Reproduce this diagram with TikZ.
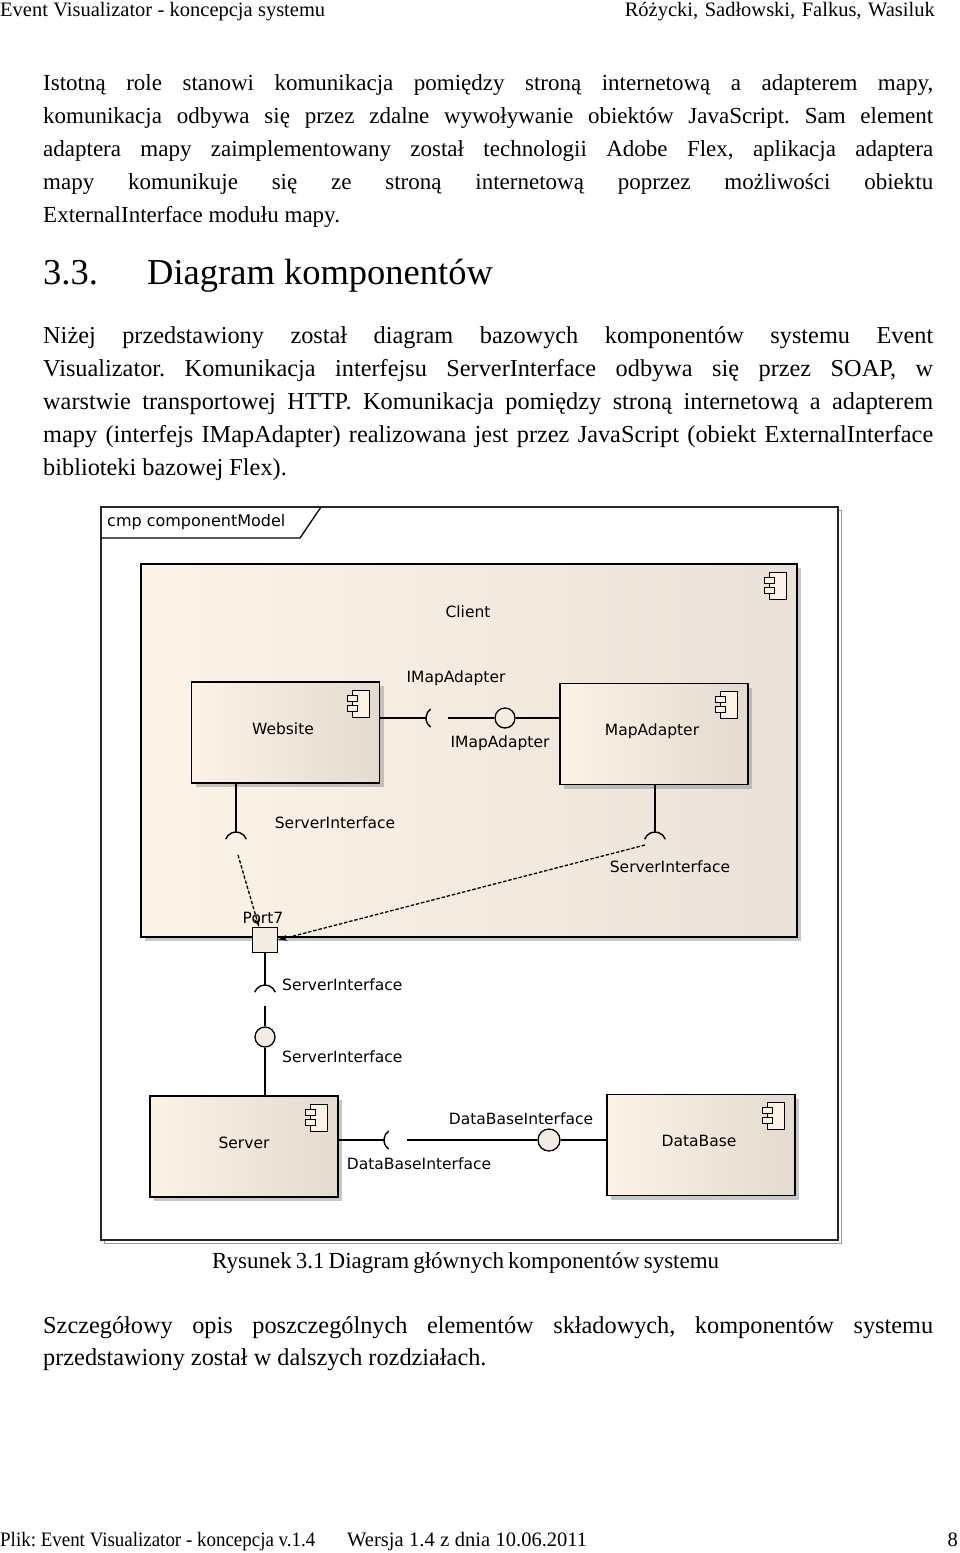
\documentclass[tikz,border=0pt]{standalone}
\usepackage{fontspec}
\setmainfont{Liberation Serif}
\newfontfamily\umlfont{DejaVu Sans}
\usetikzlibrary{arrows.meta,positioning,calc,shadows}

\definecolor{cmpleft}{HTML}{FCF2E6}
\definecolor{cmpright}{HTML}{E4DBD0}
\definecolor{clientleft}{HTML}{FDF4E8}
\definecolor{clientright}{HTML}{EAE2D8}
\definecolor{ballfill}{HTML}{F3ECE2}

\tikzset{
  body/.style={anchor=base west, inner sep=0pt, font=\fontsize{23}{27}\selectfont},
  widebody/.style={body, font=\fontsize{24.3}{28}\selectfont},
  headline/.style={anchor=base west, inner sep=0pt, font=\fontsize{20.5}{24}\selectfont},
  heading/.style={anchor=base west, inner sep=0pt, font=\fontsize{36.5}{40}\selectfont},
  uml/.style={inner sep=0pt, font=\umlfont\fontsize{15.5}{18}\selectfont},
  cmpbox/.style={draw, line width=1.4pt, left color=cmpleft, right color=cmpright,
    minimum width=188pt, minimum height=101pt, inner sep=0pt,
    drop shadow={shadow xshift=4pt, shadow yshift=-4pt, fill=black!40, opacity=.55}},
  wire/.style={line width=1.4pt},
  dep/.style={line width=1.3pt, dash pattern=on 3.5pt off 1.8pt, -{Stealth[length=9pt,width=6pt]}},
  ball/.style={circle, draw, line width=1.3pt, fill=ballfill, minimum size=20pt, inner sep=0pt},
  cmpicon/.pic={
    \draw[line width=1pt, fill=cmpleft] (5,0) rectangle (22,27);
    \draw[line width=1pt, fill=cmpleft] (0,5) rectangle (10,11);
    \draw[line width=1pt, fill=cmpleft] (0,15) rectangle (10,21);
  }
}

\begin{document}
\frenchspacing
\begin{tikzpicture}[x=1pt, y=-1pt]
  \fill[white] (0,0) rectangle (960,1553);
  \useasboundingbox (0,0) rectangle (960,1553);

  % Header
  \node[headline] (hleft) at (0,16) {\makebox[325pt][s]{Event Visualizator - koncepcja systemu}};
  \node[headline, anchor=base east] (hright) at (935,16) {\makebox[310pt][s]{Różycki, Sadłowski, Falkus, Wasiluk}};

  % First paragraph
  \node[body] (p1a) at (43,90) {\makebox[890pt][s]{Istotną role stanowi komunikacja pomiędzy stroną internetową a adapterem mapy,}};
  \node[body] (p1b) at (43,123) {\makebox[890pt][s]{komunikacja odbywa się przez zdalne wywoływanie obiektów JavaScript. Sam element}};
  \node[body] (p1c) at (43,156) {\makebox[890pt][s]{adaptera mapy zaimplementowany został technologii Adobe Flex, aplikacja adaptera}};
  \node[body] (p1d) at (43,189) {\makebox[890pt][s]{mapy komunikuje się ze stroną internetową poprzez możliwości obiektu}};
  \node[body] (p1e) at (43,222) {ExternalInterface modułu mapy.};

  % Section heading
  \node[heading] (secnum) at (43,284) {3.3.};
  \node[heading] (sectitle) at (147,284) {Diagram komponentów};

  % Second paragraph
  \node[widebody] (p2a) at (43,343) {\makebox[890pt][s]{Niżej przedstawiony został diagram bazowych komponentów systemu Event}};
  \node[widebody] (p2b) at (43,376) {\makebox[890pt][s]{Visualizator. Komunikacja interfejsu ServerInterface odbywa się przez SOAP, w}};
  \node[widebody] (p2c) at (43,409) {\makebox[890pt][s]{warstwie transportowej HTTP. Komunikacja pomiędzy stroną internetową a adapterem}};
  \node[widebody] (p2d) at (43,442) {\makebox[890pt][s]{mapy (interfejs IMapAdapter) realizowana jest przez JavaScript (obiekt ExternalInterface}};
  \node[widebody] (p2e) at (43,475) {biblioteki bazowej Flex).};

  % Diagram frame
  \draw[black!40, line width=1pt] (104,510) rectangle (841,1243);
  \draw[fill=white, draw=black!85, line width=1.6pt] (101,507) rectangle (838,1240);
  \draw[line width=1.3pt] (101,538) -- (300,538) -- (321,507);
  \node[uml, anchor=west, font=\umlfont\fontsize{16}{18}\selectfont] (frametitle) at (107,522) {cmp componentModel};

  % Client
  \node[cmpbox, left color=clientleft, right color=clientright,
    minimum width=656pt, minimum height=373pt] (client) at (469,750.5) {};
  \pic at ($(client.north east)+(-33,9)$) {cmpicon};
  \node[uml] (clientlbl) at (468,612) {Client};

  % Inner components
  \node[cmpbox] (website) at (285.5,732.5) {};
  \node[cmpbox] (mapadapter) at (654,734) {};
  \pic at ($(website.north east)+(-33,9)$) {cmpicon};
  \pic at ($(mapadapter.north east)+(-33,9)$) {cmpicon};
  \node[uml] (websitelbl) at (283,729) {Website};
  \node[uml] (mapadapterlbl) at (652,731) {MapAdapter};

  % IMapAdapter
  \coordinate (imapsock) at (426,718);
  \coordinate (imapgap) at (448,718);
  \node[ball] (imapball) at (505,718) {};
  \draw[wire] (website.east |- imapsock) -- (imapsock);
  \draw[wire] ([shift={(11,0)}]imapsock) ++(125:11) arc[start angle=125, end angle=235, radius=11];
  \draw[wire] (imapgap) -- (imapball.west);
  \draw[wire] (imapball.east) -- (mapadapter.west |- imapball);
  \node[uml] (imaptop) at (456,678) {IMapAdapter};
  \node[uml] (imapbot) at (500,743) {IMapAdapter};

  % ServerInterface inside Client
  \coordinate (wssock) at (236,832);
  \coordinate (masock) at (655,832);
  \draw[wire] (website.south -| wssock) -- (wssock);
  \draw[wire] (mapadapter.south -| masock) -- (masock);
  \draw[wire] ([shift={(0,11)}]wssock) ++(200:11) arc[start angle=200, end angle=340, radius=11];
  \draw[wire] ([shift={(0,11)}]masock) ++(200:11) arc[start angle=200, end angle=340, radius=11];
  \node[uml] (wssi) at (335,823) {ServerInterface};
  \node[uml] (masi) at (670,867) {ServerInterface};

  % Port7
  \node[draw, line width=1.2pt, fill=ballfill, minimum size=25pt, inner sep=0pt] (port7) at (265,940) {};
  \node[uml] (port7lbl) at (263,918) {Port7};
  \coordinate (wsdep) at (238,855);
  \coordinate (madep) at (645,845);
  \draw[dep] (wsdep) -- ([xshift=-6pt]port7.north);
  \draw[dep] (madep) -- (port7.east);

  % ServerInterface to Server
  \coordinate (portsock) at (265,985);
  \coordinate (portgap) at (265,1006);
  \node[ball] (portball) at (265,1037) {};
  \draw[wire] (port7.south) -- (portsock);
  \draw[wire] ([shift={(0,11)}]portsock) ++(200:11) arc[start angle=200, end angle=340, radius=11];
  \draw[wire] (portgap) -- (portball.north);
  \node[uml, anchor=west] (portsocklbl) at (282,985) {ServerInterface};
  \node[uml, anchor=west] (portballlbl) at (282,1057) {ServerInterface};

  % Server and DataBase
  \node[cmpbox] (server) at (244,1146.5) {};
  \node[cmpbox] (database) at (701,1145) {};
  \pic at ($(server.north east)+(-33,9)$) {cmpicon};
  \pic at ($(database.north east)+(-33,9)$) {cmpicon};
  \node[uml] (serverlbl) at (244,1143) {Server};
  \node[uml] (databaselbl) at (699,1141) {DataBase};
  \draw[wire] (portball.south) -- (server.north -| portball);

  % DataBaseInterface
  \coordinate (dbsock) at (384,1140);
  \coordinate (dbgap) at (407,1140);
  \node[ball, minimum size=22pt] (dbball) at (549,1140) {};
  \draw[wire] (server.east |- dbsock) -- (dbsock);
  \draw[wire] ([shift={(11,0)}]dbsock) ++(125:11) arc[start angle=125, end angle=235, radius=11];
  \draw[wire] (dbgap) -- (dbball.west);
  \draw[wire] (dbball.east) -- (database.west |- dbball);
  \node[uml] (dbtop) at (521,1119) {DataBaseInterface};
  \node[uml] (dbbot) at (419,1164) {DataBaseInterface};

  % Caption
  \node[body] (caption) at (212,1268) {\makebox[507pt][s]{Rysunek 3.1 Diagram głównych komponentów systemu}};

  % Third paragraph
  \node[widebody] (p3a) at (43,1333) {\makebox[890pt][s]{Szczegółowy opis poszczególnych elementów składowych, komponentów systemu}};
  \node[widebody] (p3b) at (43,1365) {przedstawiony został w dalszych rozdziałach.};

  % Footer
  \node[headline] (fleft) at (0,1546) {\scalebox{0.925}[1]{Plik: Event Visualizator - koncepcja v.1.4}};
  \node[headline] (fmid) at (347,1546) {\makebox[240pt][s]{Wersja 1.4 z dnia 10.06.2011}};
  \node[headline, anchor=base east] (fpage) at (958,1546) {8};
\end{tikzpicture}
\end{document}
